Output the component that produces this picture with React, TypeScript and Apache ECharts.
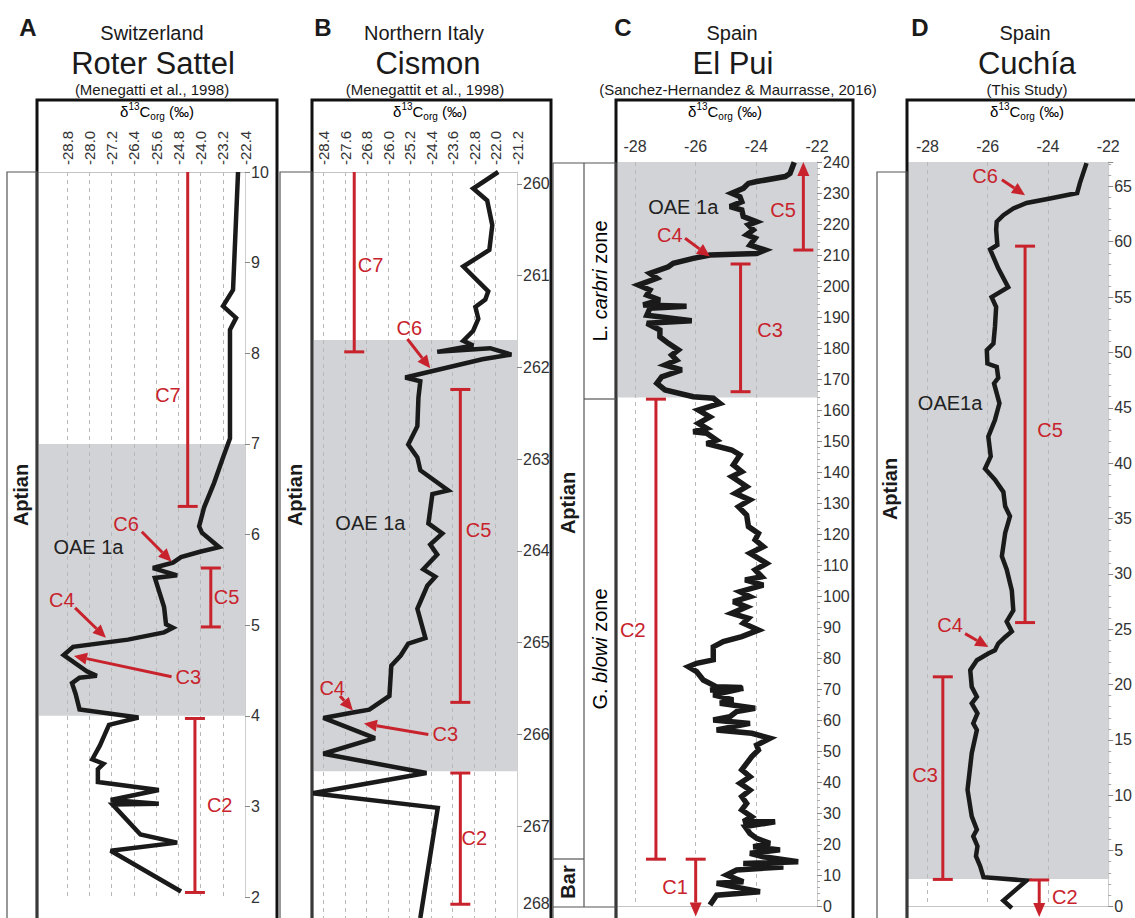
import React, { useEffect, useRef } from 'react';
import * as echarts from 'echarts';

const RED = '#c8232c';
const GREY = '#d1d3d6';
const FONT = '"Liberation Sans", Arial, Helvetica, sans-serif';

// ---------- Panel A: Roter Sattel ----------
const aTicksX = [-28.8, -28.0, -27.2, -26.4, -25.6, -24.8, -24.0, -23.2, -22.4];
const aBand = [4, 7];
const aCurve = [
  [-22.65, 10.0], [-22.83, 8.70], [-23.19, 8.52], [-22.72, 8.39], [-22.94, 8.26],
  [-22.94, 7.06], [-23.19, 6.85], [-23.51, 6.57], [-23.87, 6.30], [-24.05, 6.09],
  [-23.95, 6.02], [-23.33, 5.86], [-24.02, 5.81], [-24.70, 5.75], [-24.99, 5.69],
  [-25.71, 5.63], [-24.84, 5.55], [-25.64, 5.52], [-25.31, 5.20], [-25.24, 5.01],
  [-24.99, 4.97], [-25.31, 4.92], [-26.61, 4.84], [-28.58, 4.76], [-28.92, 4.67],
  [-28.09, 4.49], [-27.73, 4.44], [-28.35, 4.42], [-28.62, 4.36], [-28.49, 4.24],
  [-28.35, 4.07], [-26.23, 3.98], [-27.29, 3.90], [-27.62, 3.67], [-27.89, 3.52],
  [-27.49, 3.47], [-27.69, 3.41], [-27.69, 3.27], [-25.50, 3.18], [-27.23, 3.07],
  [-25.50, 3.03], [-27.16, 3.02], [-26.16, 2.69], [-24.84, 2.60], [-27.23, 2.51],
  [-24.70, 2.06],
];
const aBars = [
  [-24.46, 10, 6.31, 'none', 'cap'],
  [-23.63, 5.63, 4.98, 'cap', 'cap'],
  [-24.20, 3.97, 2.05, 'cap', 'cap'],
];
const aPointers = [
  [-26.11, 6.03, -25.04, 5.70],
  [-28.51, 5.19, -27.40, 4.86],
  [-25.04, 4.43, -28.55, 4.66],
];
const aLabels = [
  ['C7', -25.17, 7.54], ['C6', -26.68, 6.12], ['C5', -23.06, 5.31], ['C4', -28.99, 5.28],
  ['C3', -24.44, 4.43], ['C2', -23.31, 3.02], ['OAE 1a', -28.03, 5.86],
];

// ---------- Panel B: Cismon ----------
const bTicksX = [-28.4, -27.6, -26.8, -26.0, -25.2, -24.4, -23.6, -22.8, -22.0, -21.2];
const bTicksY = [260, 261, 262, 263, 264, 265, 266, 267, 268];
const bBand = [261.70, 266.40];
const bCurve = [
  [-21.90, 259.87], [-22.83, 260.05], [-22.31, 260.18], [-22.12, 260.45], [-22.23, 260.72],
  [-23.20, 260.90], [-22.27, 261.17], [-22.38, 261.26], [-22.75, 261.34], [-22.64, 261.47],
  [-22.83, 261.60], [-23.20, 261.71], [-22.83, 261.76], [-24.17, 261.83], [-22.20, 261.79],
  [-21.41, 261.86], [-22.49, 261.91], [-25.36, 262.11], [-24.80, 262.15], [-24.87, 262.33],
  [-24.91, 262.64], [-25.25, 262.84], [-24.91, 262.98], [-24.80, 263.12], [-23.76, 263.34],
  [-24.35, 263.38], [-24.50, 263.70], [-23.98, 263.81], [-24.43, 263.93], [-24.17, 264.04],
  [-24.69, 264.20], [-24.24, 264.28], [-24.54, 264.38], [-24.91, 264.63], [-24.61, 264.95],
  [-25.25, 265.01], [-25.53, 265.14], [-25.88, 265.25], [-25.95, 265.58], [-26.70, 265.73],
  [-27.31, 265.76], [-28.41, 265.82], [-26.49, 266.04], [-28.41, 266.21], [-24.57, 266.42],
  [-28.82, 266.64], [-24.15, 266.80], [-24.80, 268.0],
];
const bBars = [
  [-27.26, 259.87, 261.83, 'none', 'cap'],
  [-23.31, 262.24, 265.65, 'cap', 'cap'],
  [-23.31, 266.42, 267.85, 'cap', 'cap'],
];
const bPointers = [
  [-25.28, 261.69, -24.43, 262.01],
  [-27.79, 265.58, -27.31, 265.74],
  [-24.50, 266.0, -26.90, 265.88],
];
const bLabels = [
  ['C7', -26.65, 260.88], ['C6', -25.21, 261.57], ['C5', -22.63, 263.77], ['C4', -28.08, 265.49],
  ['C3', -23.87, 266.0], ['C2', -22.79, 267.13], ['OAE 1a', -26.66, 263.69],
];

// ---------- Panel C: El Pui ----------
const cTicksX = [-28, -26, -24, -22];
const cBand = [164, 240];
const cCurve = [
  [-22.75, 239.9], [-22.89, 236.3], [-23.05, 235.3], [-23.99, 233.7], [-24.26, 233.1],
  [-24.43, 231.5], [-24.81, 229.9], [-24.54, 228.8], [-24.48, 227.2], [-24.87, 225.6],
  [-24.48, 224.5], [-24.43, 222.4], [-23.99, 220.7], [-24.26, 219.7], [-24.10, 218.1],
  [-24.32, 216.5], [-24.04, 215.4], [-24.21, 213.2], [-23.71, 211.6], [-23.99, 210.5],
  [-25.53, 210.0], [-26.08, 208.9], [-26.74, 207.3], [-26.90, 206.2], [-27.51, 204.1],
  [-27.28, 202.5], [-27.89, 200.3], [-27.51, 198.7], [-27.61, 197.1], [-27.18, 195.5],
  [-27.73, 193.9], [-26.30, 193.5], [-27.51, 192.8], [-27.61, 190.6], [-26.13, 188.8],
  [-27.61, 188.0], [-27.18, 185.8], [-27.18, 183.6], [-26.90, 181.5], [-26.57, 179.4],
  [-26.79, 177.7], [-26.63, 176.1], [-27.01, 174.5], [-26.46, 172.9], [-27.12, 170.7],
  [-27.28, 168.6], [-27.01, 166.5], [-26.08, 164.3], [-25.42, 163.8], [-25.20, 162.1],
  [-25.91, 160.0], [-25.53, 157.8], [-25.91, 155.7], [-25.64, 154.1], [-26.08, 153.0],
  [-25.64, 152.5], [-25.31, 150.3], [-25.64, 149.2], [-24.81, 147.1], [-24.54, 145.5],
  [-24.76, 142.3], [-24.48, 140.1], [-24.81, 138.5], [-24.32, 135.3], [-24.70, 133.1],
  [-24.21, 131.0], [-24.59, 128.8], [-24.32, 126.1], [-24.26, 122.4], [-23.93, 120.2],
  [-24.04, 118.1], [-23.77, 115.9], [-24.21, 113.8], [-23.66, 110.5], [-24.04, 108.4],
  [-23.82, 106.2], [-24.37, 105.2], [-23.77, 103.5], [-24.54, 101.4], [-24.21, 99.8],
  [-24.76, 98.2], [-24.32, 96.5], [-24.81, 94.4], [-24.26, 92.8], [-24.43, 91.2],
  [-23.93, 89.0], [-24.48, 86.9], [-25.09, 85.3], [-25.42, 83.6], [-25.42, 79.4],
  [-25.97, 78.3], [-26.24, 77.2], [-25.97, 75.6], [-25.75, 72.9], [-25.31, 70.7],
  [-24.48, 70.5], [-25.53, 69.7], [-24.43, 70.2], [-25.42, 68.1], [-24.76, 66.5],
  [-25.20, 65.4], [-24.04, 63.8], [-24.65, 62.7], [-24.87, 61.1], [-25.42, 60.0],
  [-24.21, 58.9], [-25.31, 56.8], [-24.15, 55.7], [-23.55, 54.1], [-23.99, 51.9],
  [-23.93, 50.3], [-24.15, 48.2], [-24.32, 46.0], [-24.48, 43.9], [-24.21, 41.7],
  [-24.54, 39.6], [-24.21, 37.4], [-24.48, 35.3], [-24.32, 33.1], [-24.48, 31.0],
  [-24.15, 28.8], [-24.43, 27.2], [-23.38, 27.2], [-24.37, 25.6], [-24.21, 23.4],
  [-23.99, 21.8], [-23.55, 20.2], [-24.10, 19.1], [-23.22, 18.1], [-24.21, 17.0],
  [-23.77, 15.9], [-22.62, 14.3], [-24.43, 13.7], [-23.11, 12.6], [-24.65, 11.6],
  [-24.98, 10.0], [-24.43, 7.8], [-25.31, 7.3], [-23.88, 4.6], [-25.31, 3.5],
  [-25.53, 0.3],
];
const cBars = [
  [-22.45, 240, 211.6, 'arrow', 'cap'],
  [-24.52, 207.1, 165.9, 'cap', 'cap'],
  [-27.31, 163.5, 15.1, 'cap', 'cap'],
  [-26.0, 15.1, -3.4, 'cap', 'arrow'],
];
const cPointers = [[-26.35, 215.4, -25.53, 209.5]];
const cLabels = [
  ['C5', -23.12, 224.5], ['C3', -23.55, 185.8], ['C2', -28.07, 89.0], ['C1', -26.68, 6.2],
  ['C4', -26.85, 216.5], ['OAE 1a', -26.41, 225.6],
];

// ---------- Panel D: Cuchía ----------
const dTicksX = [-28, -26, -24, -22];
const dBand = [2.44, 67.2];
const dCurve = [
  [-22.72, 67.1], [-22.94, 65.3], [-23.03, 64.4], [-23.93, 63.9], [-24.71, 63.5],
  [-25.15, 63.0], [-25.48, 62.4], [-25.70, 61.8], [-25.72, 61.1], [-25.68, 59.7],
  [-25.92, 59.3], [-25.65, 57.6], [-25.32, 55.9], [-25.87, 55.0], [-25.72, 54.1],
  [-25.76, 52.3], [-25.81, 50.8], [-26.03, 50.2], [-26.01, 49.0], [-25.70, 48.7],
  [-25.65, 47.7], [-25.79, 47.2], [-25.61, 45.4], [-25.76, 43.9], [-25.98, 42.4],
  [-25.90, 40.6], [-26.09, 39.5], [-25.76, 38.5], [-25.48, 37.4], [-25.42, 36.1],
  [-25.26, 35.2], [-25.42, 33.7], [-25.53, 31.6], [-25.37, 30.4], [-25.20, 28.5],
  [-25.15, 26.7], [-25.37, 25.7], [-25.20, 24.8], [-25.42, 24.3], [-25.65, 23.7],
  [-25.76, 23.1], [-25.98, 22.8], [-26.36, 22.2], [-26.58, 21.3], [-26.53, 19.8],
  [-26.36, 18.9], [-26.53, 18.3], [-26.34, 17.4], [-26.48, 16.5], [-26.36, 15.9],
  [-26.53, 13.8], [-26.67, 10.5], [-26.53, 8.1], [-26.36, 6.9], [-26.48, 6.3],
  [-26.34, 5.4], [-26.39, 4.5], [-26.25, 3.6], [-26.14, 2.6], [-24.71, 2.3],
  [-25.48, 0.5], [-25.20, -0.2],
];
const dBars = [
  [-24.76, 59.6, 25.6, 'cap', 'cap'],
  [-27.49, 20.7, 2.4, 'cap', 'cap'],
  [-24.29, 2.35, -1.0, 'cap', 'arrow'],
];
const dPointers = [
  [-25.53, 65.6, -24.76, 64.2],
  [-26.75, 24.6, -25.98, 23.4],
];
const dLabels = [
  ['C6', -26.09, 65.9], ['C5', -23.93, 43.0], ['C4', -27.25, 25.4], ['C3', -28.08, 11.8],
  ['C2', -23.44, 0.84], ['OAE1a', -27.25, 45.4],
];

// ---------- builders ----------
function bandSeries(i: number, band: number[], xmin: number) {
  return {
    type: 'custom', xAxisIndex: i, yAxisIndex: i, z: 0, silent: true,
    data: [[xmin, band[0], band[1]]],
    renderItem: (params: any, api: any) => {
      const cs = params.coordSys;
      const p1 = api.coord([api.value(0), api.value(1)]);
      const p2 = api.coord([api.value(0), api.value(2)]);
      return {
        type: 'rect',
        shape: { x: cs.x, y: Math.min(p1[1], p2[1]), width: cs.width + 1, height: Math.abs(p2[1] - p1[1]) },
        style: { fill: GREY },
      };
    },
  };
}

function curveSeries(i: number, data: number[][], width: number) {
  return {
    type: 'line', xAxisIndex: i, yAxisIndex: i, z: 2, silent: true, clip: false,
    data, symbol: 'none',
    lineStyle: { color: '#1a1a1a', width, join: 'miter', miterLimit: 3 },
  };
}

function barSeries(i: number, bars: any[]) {
  return {
    type: 'custom', xAxisIndex: i, yAxisIndex: i, z: 3, silent: true,
    data: bars.map((b) => [b[0], b[1], b[2]]),
    renderItem: (params: any, api: any) => {
      const b = bars[params.dataIndex];
      const pa = api.coord([b[0], b[1]]);
      const pb = api.coord([b[0], b[2]]);
      const children: any[] = [];
      const lineEnds = [pa[1], pb[1]];
      const ends = [[pa, pb, b[3], 0], [pb, pa, b[4], 1]];
      ends.forEach((e: any) => {
        const p = e[0], o = e[1], kind = e[2], k = e[3];
        if (kind === 'cap') {
          children.push({ type: 'line', shape: { x1: p[0] - 10, y1: p[1], x2: p[0] + 10, y2: p[1] }, style: { stroke: RED, lineWidth: 3 } });
        } else if (kind === 'arrow') {
          const dir = p[1] > o[1] ? 1 : -1;
          const base = p[1] - dir * 14;
          lineEnds[k] = base;
          children.push({ type: 'polygon', shape: { points: [[p[0] - 6, base], [p[0] + 6, base], [p[0], p[1]]] }, style: { fill: RED } });
        }
      });
      children.unshift({ type: 'line', shape: { x1: pa[0], y1: lineEnds[0], x2: pb[0], y2: lineEnds[1] }, style: { stroke: RED, lineWidth: 3 } });
      return { type: 'group', children };
    },
  };
}

function pointerSeries(i: number, ptrs: number[][]) {
  return {
    type: 'custom', xAxisIndex: i, yAxisIndex: i, z: 3, silent: true,
    data: ptrs.map((d) => [d[0], d[1]]),
    renderItem: (params: any, api: any) => {
      const d = ptrs[params.dataIndex];
      const p1 = api.coord([d[0], d[1]]);
      const p2 = api.coord([d[2], d[3]]);
      const dx = p2[0] - p1[0], dy = p2[1] - p1[1];
      const L = Math.hypot(dx, dy) || 1;
      const ux = dx / L, uy = dy / L;
      const hl = 13, hw = 6;
      const bx = p2[0] - ux * hl, by = p2[1] - uy * hl;
      return {
        type: 'group',
        children: [
          { type: 'line', shape: { x1: p1[0], y1: p1[1], x2: bx, y2: by }, style: { stroke: RED, lineWidth: 3 } },
          { type: 'polygon', shape: { points: [[p2[0], p2[1]], [bx - uy * hw, by + ux * hw], [bx + uy * hw, by - ux * hw]] }, style: { fill: RED } },
        ],
      };
    },
  };
}

function labelSeries(i: number, labels: any[]) {
  return {
    type: 'custom', xAxisIndex: i, yAxisIndex: i, z: 4, silent: true,
    data: labels.map((l) => [l[1], l[2]]),
    renderItem: (params: any, api: any) => {
      const l = labels[params.dataIndex];
      const p = api.coord([l[1], l[2]]);
      const isRed = String(l[0]).charAt(0) === 'C';
      return {
        type: 'text', x: p[0], y: p[1],
        style: {
          text: l[0], fill: isRed ? RED : '#222', font: `20px ${FONT}`,
          align: 'center', verticalAlign: 'middle', textAlign: 'center', textVerticalAlign: 'middle',
        },
      };
    },
  };
}

function xAxis(i: number, min: number, max: number, ticks: number[], rotated: boolean) {
  return {
    type: 'value', gridIndex: i, position: 'top', min, max, z: 1,
    axisLine: { show: true, lineStyle: { color: '#c4c4c4', width: 1 } },
    axisTick: { show: false, customValues: ticks },
    axisLabel: {
      customValues: ticks, rotate: rotated ? -90 : 0, margin: rotated ? 7 : 8,
      fontSize: rotated ? 15 : 16, color: '#333', fontFamily: FONT,
      formatter: (v: number) => (rotated ? v.toFixed(1) : String(Math.round(v))),
    },
    splitLine: { show: true, lineStyle: { color: '#b8b8b8', type: [4, 4], width: 1 } },
  };
}

function yAxisBase(i: number) {
  return {
    type: 'value', gridIndex: i, position: 'right', z: 1,
    axisLine: { show: true, lineStyle: { color: '#cfcfcf', width: 1 } },
    axisTick: { show: true, length: 5, lineStyle: { color: '#888' } },
    axisLabel: { fontSize: 16, color: '#333', margin: 6, fontFamily: FONT },
    splitLine: { show: false },
  };
}

function txt(x: number, y: number, text: string, font: string, extra: any = {}) {
  return {
    type: 'text', x, y, z: 10, silent: true, ...extra,
    style: { text, font, fill: '#1a1a1a', align: 'center', verticalAlign: 'middle', textAlign: 'center', textVerticalAlign: 'middle', ...(extra.style || {}) },
  };
}

function deltaLabel(x: number, y: number) {
  return {
    type: 'text', x, y, z: 10, silent: true,
    style: {
      text: '{a|δ}{s|13}{a|C}{b|org}{a| (‰)}',
      align: 'center', verticalAlign: 'middle', textAlign: 'center', textVerticalAlign: 'middle',
      rich: {
        a: { fontSize: 15, fontFamily: FONT, color: '#222', lineHeight: 20 },
        s: { fontSize: 10, fontFamily: FONT, color: '#222', verticalAlign: 'top', lineHeight: 12 },
        b: { fontSize: 10, fontFamily: FONT, color: '#222', verticalAlign: 'bottom', lineHeight: 12 },
      },
    },
  };
}

function rect(x: number, y: number, w: number, h: number, lw: number, color: string) {
  return { type: 'rect', z: 9, silent: true, shape: { x, y, width: w, height: h }, style: { fill: 'none', stroke: color, lineWidth: lw } };
}
function hline(x1: number, y1: number, x2: number, y2: number) {
  return { type: 'line', z: 9, silent: true, shape: { x1, y1, x2, y2 }, style: { stroke: '#555', lineWidth: 1.2 } };
}

export default function App() {
  const ref = useRef<HTMLDivElement>(null);
  useEffect(() => {
    if (!ref.current) return;
    const chart = echarts.init(ref.current, undefined, { renderer: 'svg' });

    const xMins = [-29.807, -28.758, -28.561, -28.646];
    const grids = [
      { left: 39, top: 172, width: 206, height: 725 },
      { left: 314, top: 172, width: 203, height: 753.4 },
      { left: 618, top: 162, width: 199, height: 744 },
      { left: 908, top: 162, width: 200.5, height: 744 },
    ];

    const bold20 = `bold 20px ${FONT}`;
    const countryFont = `20px ${FONT}`;
    const siteFont = `31px ${FONT}`;
    const refFont = `15px ${FONT}`;
    const graphics: any[] = [
      // frames
      rect(37, 100, 240, 860, 3, '#111'),
      rect(312, 100, 239, 860, 3, '#111'),
      rect(616, 100, 237, 860, 3, '#111'),
      rect(907, 100, 240, 860, 3, '#111'),
      // stage columns
      rect(7, 172, 30, 800, 1.2, '#555'),
      rect(280, 172, 32, 800, 1.2, '#555'),
      rect(553, 163, 63, 800, 1.2, '#555'),
      hline(584, 163, 584, 907),
      hline(584, 399, 616, 399),
      hline(553, 859, 584, 859),
      hline(553, 907, 616, 907),
      rect(877, 172, 30, 800, 1.2, '#555'),
      // panel letters
      txt(28, 27, 'A', `bold 24px ${FONT}`),
      txt(323, 27, 'B', `bold 24px ${FONT}`),
      txt(623, 27, 'C', `bold 24px ${FONT}`),
      txt(920, 27, 'D', `bold 24px ${FONT}`),
      // countries
      txt(152, 33, 'Switzerland', countryFont),
      txt(424, 33, 'Northern Italy', countryFont),
      txt(732, 33, 'Spain', countryFont),
      txt(1025, 33, 'Spain', countryFont),
      // sites
      txt(153, 63, 'Roter Sattel', siteFont),
      txt(428, 63, 'Cismon', siteFont),
      txt(733, 63, 'El Pui', siteFont),
      txt(1027, 63, 'Cuchía', siteFont),
      // references
      txt(152, 89, '(Menegatti et al., 1998)', refFont),
      txt(425, 89, '(Menegattit et al., 1998)', refFont),
      txt(738, 89, '(Sanchez-Hernandez & Maurrasse, 2016)', refFont),
      txt(1027, 89, '(This Study)', refFont),
      // axis names
      deltaLabel(157, 111),
      deltaLabel(430, 111),
      deltaLabel(725, 111),
      deltaLabel(1027, 111),
      // stage names
      txt(21, 495, 'Aptian', bold20, { rotation: Math.PI / 2 }),
      txt(295, 495, 'Aptian', bold20, { rotation: Math.PI / 2 }),
      txt(568, 503, 'Aptian', bold20, { rotation: Math.PI / 2 }),
      txt(890, 489, 'Aptian', bold20, { rotation: Math.PI / 2 }),
      txt(568, 882, 'Bar', bold20, { rotation: Math.PI / 2 }),
      {
        type: 'text', x: 600, y: 281, z: 10, silent: true, rotation: Math.PI / 2,
        style: {
          text: '{n|L. }{i|carbri}{n| zone}', align: 'center', verticalAlign: 'middle', textAlign: 'center', textVerticalAlign: 'middle',
          rich: { n: { fontSize: 20, fontFamily: FONT, color: '#222' }, i: { fontSize: 20, fontFamily: FONT, fontStyle: 'italic', color: '#222' } },
        },
      },
      {
        type: 'text', x: 600, y: 649, z: 10, silent: true, rotation: Math.PI / 2,
        style: {
          text: '{n|G. }{i|blowi}{n| zone}', align: 'center', verticalAlign: 'middle', textAlign: 'center', textVerticalAlign: 'middle',
          rich: { n: { fontSize: 20, fontFamily: FONT, color: '#222' }, i: { fontSize: 20, fontFamily: FONT, fontStyle: 'italic', color: '#222' } },
        },
      },
    ];

    const yA = { ...yAxisBase(0), min: 2, max: 10, interval: 1 };
    const yB: any = {
      ...yAxisBase(1), inverse: true, min: 259.87, max: 268,
      axisTick: { show: true, length: 5, lineStyle: { color: '#888' }, customValues: bTicksY },
    };
    yB.axisLabel = {
      ...yB.axisLabel, customValues: bTicksY,
      formatter: (v: number) => (Math.round(v) === 268 ? '{u|268}' : String(Math.round(v))),
      rich: { u: { fontSize: 16, fontFamily: FONT, color: '#333', padding: [0, 0, 30, 0] } },
    };
    const yC: any = {
      ...yAxisBase(2), min: 0, max: 240, interval: 10,
      minorTick: { show: true, splitNumber: 5, length: 3, lineStyle: { color: '#aaa' } },
    };
    const yD: any = {
      ...yAxisBase(3), min: 0, max: 67.2, interval: 5,
      minorTick: { show: true, splitNumber: 5, length: 3, lineStyle: { color: '#aaa' } },
    };
    yD.axisLabel = { ...yD.axisLabel, showMaxLabel: false };

    const option: any = {
      animation: false,
      backgroundColor: '#ffffff',
      grid: grids,
      xAxis: [
        xAxis(0, xMins[0], -22.4, aTicksX, true),
        xAxis(1, xMins[1], -21.2, bTicksX, true),
        xAxis(2, xMins[2], -22, cTicksX, false),
        xAxis(3, xMins[3], -22, dTicksX, false),
      ],
      yAxis: [yA, yB, yC, yD],
      graphic: graphics,
      series: [
        bandSeries(0, aBand, xMins[0]),
        bandSeries(1, bBand, xMins[1]),
        bandSeries(2, cBand, xMins[2]),
        bandSeries(3, dBand, xMins[3]),
        curveSeries(0, aCurve, 4.5),
        curveSeries(1, bCurve, 4.5),
        curveSeries(2, cCurve, 5.5),
        curveSeries(3, dCurve, 4.5),
        barSeries(0, aBars), barSeries(1, bBars), barSeries(2, cBars), barSeries(3, dBars),
        pointerSeries(0, aPointers), pointerSeries(1, bPointers), pointerSeries(2, cPointers), pointerSeries(3, dPointers),
        labelSeries(0, aLabels), labelSeries(1, bLabels), labelSeries(2, cLabels), labelSeries(3, dLabels),
      ],
    };
    chart.setOption(option);
    return () => chart.dispose();
  }, []);

  return <div ref={ref} style={{ position: 'fixed', left: 0, top: 0, width: 1135, height: 918, background: '#fff' }} />;
}
